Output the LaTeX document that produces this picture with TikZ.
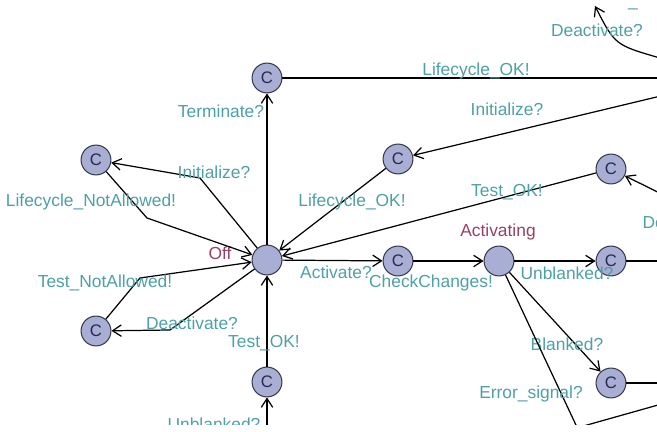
\documentclass[tikz,border=0pt]{standalone}
\usepackage{fontspec}
\setmainfont{Liberation Sans}
\usetikzlibrary{arrows.meta}
\definecolor{syncteal}{RGB}{77,160,166}
\definecolor{locname}{RGB}{150,65,100}
\definecolor{locfill}{RGB}{168,174,212}
\definecolor{locline}{RGB}{55,58,75}
\definecolor{committed}{RGB}{40,42,80}
\begin{document}
\begin{tikzpicture}[x=0.02cm,y=-0.02cm,line width=0.7pt,
	>={Straight Barb[length=5pt,width=6.5pt]},
	loc/.style={circle,draw=locline,fill=locfill,minimum size=17pt,inner sep=0pt,line width=0.6pt,
		text=committed,font=\fontsize{9.5}{11}\selectfont},
	sync/.style={text=syncteal,inner sep=0pt,font=\fontsize{9.9}{12}\selectfont},
	locname/.style={text=locname,inner sep=0pt,font=\fontsize{9.9}{12}\selectfont}]
	\useasboundingbox (0,0) rectangle (657,432);
	\clip (0,0) rectangle (657,425);
	% locations
	\node[loc] (off) at (267,260) {};
	\node[loc] (term) at (267,78) {C};
	\node[loc] (initNa) at (96,160) {C};
	\node[loc] (testNa) at (96,331) {C};
	\node[loc] (lcOk) at (398,159) {C};
	\node[loc] (testOk) at (611,169) {C};
	\node[loc] (check) at (398,261) {C};
	\node[loc] (activating) at (499,261) {};
	\node[loc] (unbl) at (611,261) {C};
	\node[loc] (blank) at (611,383) {C};
	\node[loc] (testOkB) at (267,382) {C};
	\node[locname] (offName) at (220,253) {Off};
	\node[locname] (actName) at (498,232) {Activating};
	% edge ends outside the frame
	\coordinate (lcOut) at (690,78);
	\coordinate (initIn) at (690,89);
	\coordinate (deIn) at (690,208);
	\coordinate (unblOut) at (690,261);
	\coordinate (blankOut) at (690,383);
	\coordinate (errOut) at (583,440);
	\coordinate (lowIn) at (580,427);
	\coordinate (lowOut) at (690,396);
	\coordinate (unblIn) at (267,440);
	\coordinate (deTopIn) at (660,58);
	\coordinate (deTopOut) at (595,6);
	% edges
	\draw[->] (off) -- (term) node[sync] at (221,111) {Terminate?};
	\draw (term) -- (lcOut) node[sync] at (476,71) {Lifecycle\_OK!};
	\draw[->] (initIn) -- (lcOk) node[sync] at (507,109) {Initialize?};
	\draw[->] (lcOk) -- (off) node[sync] at (352,202) {Lifecycle\_OK!};
	\draw[->] (off) -- (200,178) -- (initNa) node[sync] at (214,172) {Initialize?};
	\draw[->] (initNa) -- (147,218) -- (off) node[sync] at (91,202) {Lifecycle\_NotAllowed!};
	\draw[->] (testNa) -- (140,278) -- (off) node[sync] at (105,283) {Test\_NotAllowed!};
	\draw[->] (off) -- (170,330) -- (testNa) node[sync] at (192,323) {Deactivate?};
	\draw[->] (testOkB) -- (off) node[sync] at (264,343) {Test\_OK!};
	\draw[->] (unblIn) -- (testOkB) node[sync] at (214,424) {Unblanked?};
	\draw[->] (testOk) -- (off) node[sync] at (507,192) {Test\_OK!};
	\draw[->] (deIn) -- (testOk) node[sync,anchor=west] at (642,222) {Deactivate?};
	\draw[->] (off) -- (check) node[sync] at (336,272) {Activate?};
	\draw[->] (check) -- (activating) node[sync] at (431,283) {CheckChanges!};
	\draw[->] (activating) -- (unbl) node[sync] at (567,273) {Unblanked?};
	\draw (unbl) -- (unblOut);
	\draw[->] (activating) -- (blank) node[sync] at (567,344) {Blanked?};
	\draw (activating) -- (errOut) node[sync] at (531,394) {Error\_signal?};
	\draw (blank) -- (blankOut);
	\draw (lowIn) -- (lowOut);
	\draw[->] (deTopIn) .. controls (615,45) .. (deTopOut) node[sync] at (597,30) {Deactivate?};
	\node[sync,anchor=base] (cutLabel) at (633,7) {\_};
\end{tikzpicture}
\end{document}
